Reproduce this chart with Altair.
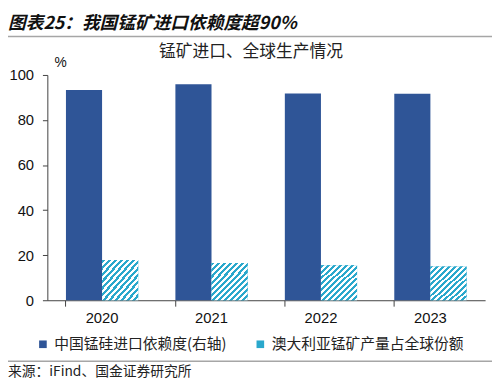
import altair as alt
import pandas as pd

# ---- data ----
years = ["2020", "2021", "2022", "2023"]
series_names = ["中国锰硅进口依赖度(右轴)", "澳大利亚锰矿产量占全球份额"]
china_dep = [93.3, 95.9, 91.8, 91.7]
aus_share = [17.9, 16.5, 15.5, 15.0]

title_text = "图表25：我国锰矿进口依赖度超90%"
subtitle_text = "锰矿进口、全球生产情况"
source_text = "来源：iFind、国金证券研究所"

BLUE = "#2F5597"
CYAN = "#2AA8CC"

rows = []
for i, y in enumerate(years):
    rows.append({"year": y, "series": series_names[0], "value": china_dep[i]})
    rows.append({"year": y, "series": series_names[1], "value": aus_share[i]})
df = pd.DataFrame(rows)

W, H = 445, 229
CJK = "Noto Sans CJK SC"
LAT = "Liberation Sans"

# diagonal hatch via hard-stop gradient
stops = []
n = 12
for i in range(n):
    a = i / n
    b = (i + 0.5) / n
    c = (i + 1) / n
    stops += [
        alt.GradientStop(color=CYAN, offset=a),
        alt.GradientStop(color=CYAN, offset=b),
        alt.GradientStop(color="#FFFFFF", offset=b),
        alt.GradientStop(color="#FFFFFF", offset=c),
    ]
hatch_fill = alt.LinearGradient(gradient="linear", stops=stops, x1=0, y1=0, x2=1, y2=1)

x_enc = alt.X(
    "year:N",
    sort=years,
    title=None,
    scale=alt.Scale(paddingInner=0.34, paddingOuter=0.17),
    axis=alt.Axis(
        bandPosition=0, labelAngle=0, labelFont=LAT, labelFontSize=15, labelColor="#111111",
        labelPadding=5, tickSize=6, domainColor="#404040", tickColor="#404040", grid=False,
    ),
)
xoff_enc = alt.XOffset("series:N", scale=alt.Scale(domain=series_names, paddingInner=0, paddingOuter=0))
y_enc = alt.Y(
    "value:Q",
    scale=alt.Scale(domain=[0, 100], nice=False),
    axis=alt.Axis(
        values=[0, 20, 40, 60, 80, 100], grid=False, labelFont=LAT, labelFontSize=15,
        labelColor="#111111", labelPadding=9, tickSize=5, domainColor="#404040",
        tickColor="#404040", title="%", titleAngle=0, titleX=13, titleY=-13,
        titleFont=LAT, titleFontSize=14, titleFontWeight="normal", titleAlign="center",
        titleBaseline="middle", titleColor="#111111",
    ),
)

base = alt.Chart(df)
bars = base.mark_bar().encode(
    x=x_enc,
    xOffset=xoff_enc,
    y=y_enc,
    color=alt.Color(
        "series:N",
        scale=alt.Scale(domain=series_names, range=[BLUE, CYAN]),
        legend=alt.Legend(
            title=None, orient="none", legendX=-12, legendY=266, direction="horizontal",
            symbolType="square", symbolSize=60, symbolStrokeWidth=0, labelFont=CJK,
            labelFontSize=15, labelColor="#222222", columnPadding=26, labelOffset=4,
            labelLimit=400,
        ),
    ),
)
hatch = base.transform_filter(alt.datum.series == series_names[1]).mark_bar(fill=hatch_fill).encode(
    x=x_enc, xOffset=xoff_enc, y=y_enc
)

one = pd.DataFrame({"t": [title_text], "s": [subtitle_text], "f": [source_text]})
title = alt.Chart(one).mark_text(
    font=CJK, fontSize=18, fontWeight="bold", fontStyle="italic", align="left", baseline="middle", color="#111111"
).encode(text="t:N", x=alt.value(-40), y=alt.value(-52))
subtitle = alt.Chart(one).mark_text(
    font=CJK, fontSize=17, align="center", baseline="middle", color="#222222"
).encode(text="s:N", x=alt.value(207), y=alt.value(-23))
source = alt.Chart(one).mark_text(
    font=CJK, fontSize=14, align="left", baseline="middle", color="#222222"
).encode(text="f:N", x=alt.value(-40), y=alt.value(302))
top_rule = alt.Chart(one).mark_rule(color="#A6A6A6", strokeWidth=1.5).encode(
    x=alt.value(-40), x2=alt.value(W + 7), y=alt.value(-39)
)
bottom_rule = alt.Chart(one).mark_rule(color="#A6A6A6", strokeWidth=1.5).encode(
    x=alt.value(-40), x2=alt.value(W + 7), y=alt.value(291)
)

chart = alt.layer(bars, hatch, title, subtitle, source, top_rule, bottom_rule).properties(
    width=W, height=H,
    autosize=alt.AutoSizeParams(type="none"),
    padding={"left": 40, "top": 65, "right": 7, "bottom": 79},
).configure_view(stroke=None)

chart.save("out.html", embed_options={"renderer": "svg", "actions": False})
